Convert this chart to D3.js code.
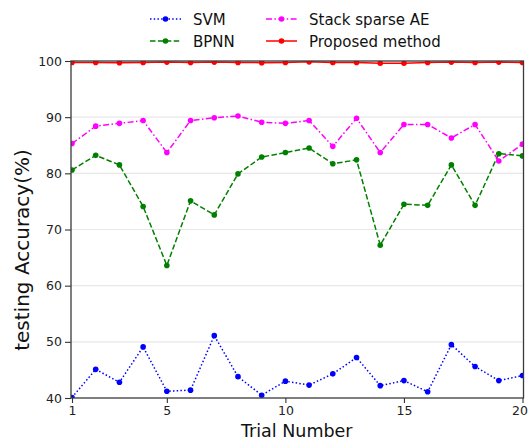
<!DOCTYPE html>
<html>
<head>
<meta charset="utf-8">
<script src="https://cdn.jsdelivr.net/npm/d3@7/dist/d3.min.js"></script>
<style>
  html, body { margin: 0; padding: 0; background: #fff; overflow: hidden; }
  svg { display: block; font-family: "DejaVu Sans", sans-serif; }
</style>
</head>
<body>
<svg id="chart" width="528" height="441"></svg>
<script>
// Trial index 1..20
const trials = d3.range(1, 21);

// Testing accuracy (%) for each method across the 20 trials
const svm = [40.1, 45.1, 42.8, 49.1, 41.2, 41.4, 51.1, 43.8, 40.5, 43.0,
             42.3, 44.3, 47.2, 42.2, 43.1, 41.1, 49.5, 45.6, 43.1, 44.0];
const bpnn = [80.6, 83.2, 81.5, 74.1, 63.6, 75.1, 72.6, 79.9, 82.9, 83.7,
              84.5, 81.7, 82.4, 67.2, 74.5, 74.3, 81.5, 74.3, 83.5, 83.1];
const stackAE = [85.3, 88.4, 88.9, 89.4, 83.7, 89.4, 89.9, 90.2, 89.1, 88.9,
                 89.4, 84.8, 89.8, 83.7, 88.7, 88.7, 86.3, 88.7, 82.2, 85.2];
const proposed = [99.75, 99.75, 99.7, 99.75, 99.8, 99.75, 99.8, 99.75, 99.7, 99.75,
                  99.85, 99.75, 99.75, 99.6, 99.6, 99.75, 99.8, 99.75, 99.8, 99.75];

const xTicks = [1, 5, 10, 15, 20];
const yTicks = [40, 50, 60, 70, 80, 90, 100];
const gridValues = [50, 60, 70, 80, 90];

const seriesNames = ["SVM", "BPNN", "Stack sparse AE", "Proposed method"];
const seriesValues = [svm, bpnn, stackAE, proposed];
const seriesColors = ["#0000ff", "#008000", "#ff00ff", "#ff0000"];
const seriesDashes = ["1.5,2.2", "5.5,2.4", "6,2.4,1.5,2.4", null];

const svg = d3.select("#chart");
const plot = { left: 71, right: 522.5, top: 61, bottom: 398 };

const x = d3.scaleLinear().domain([1, 20]).range([plot.left + 1, plot.right]);
const y = d3.scaleLinear().domain([40, 100]).range([plot.bottom, plot.top]);

svg.append("defs").append("clipPath").attr("id", "plot-clip")
  .append("rect")
  .attr("x", plot.left).attr("y", plot.top)
  .attr("width", plot.right - plot.left + 1).attr("height", plot.bottom - plot.top);

// horizontal grid lines
svg.append("g").selectAll("line").data(gridValues).join("line")
  .attr("x1", plot.left).attr("x2", plot.right)
  .attr("y1", d => y(d)).attr("y2", d => y(d))
  .attr("stroke", "#e8e8e8").attr("stroke-width", 1.2);

// series
const lineGen = d3.line().x((d, i) => x(trials[i])).y(d => y(d));
const marks = svg.append("g").attr("clip-path", "url(#plot-clip)");
seriesValues.forEach((vals, k) => {
  const g = marks.append("g");
  g.append("path").datum(vals)
    .attr("d", lineGen)
    .attr("fill", "none")
    .attr("stroke", seriesColors[k])
    .attr("stroke-width", 1.5)
    .attr("stroke-dasharray", seriesDashes[k]);
  g.selectAll("circle").data(vals).join("circle")
    .attr("cx", (d, i) => x(trials[i]))
    .attr("cy", d => y(d))
    .attr("r", 2.8)
    .attr("fill", seriesColors[k]);
});

// axes
const xAxis = d3.axisBottom(x).tickValues(xTicks).tickSize(5).tickPadding(3);
const yAxis = d3.axisLeft(y).tickValues(yTicks).tickSize(6).tickPadding(3);

const gx = svg.append("g").attr("transform", `translate(0,${plot.bottom})`).call(xAxis);
const gy = svg.append("g").attr("transform", `translate(${plot.left},0)`).call(yAxis);
[gx, gy].forEach(g => {
  g.select(".domain").remove();
  g.selectAll(".tick line").attr("stroke", "#333").attr("stroke-width", 1.1);
  g.selectAll(".tick text").attr("fill", "#222").style("font-size", "12.5px")
    .style("font-family", "'DejaVu Sans', sans-serif");
});
// keep the last x tick label inside the page edge
gx.selectAll(".tick text").filter(d => d === 20).attr("dx", -3);

// frame
svg.append("rect")
  .attr("x", plot.left).attr("y", plot.top)
  .attr("width", plot.right - plot.left + 1).attr("height", plot.bottom - plot.top)
  .attr("fill", "none").attr("stroke", "#3a3a3a").attr("stroke-width", 1.3);

// axis titles
svg.append("text")
  .attr("x", (plot.left + plot.right) / 2).attr("y", 437)
  .attr("text-anchor", "middle")
  .attr("fill", "#111")
  .style("font-size", "17.5px")
  .text("Trial Number");

svg.append("text")
  .attr("transform", "translate(29,250) rotate(-90)")
  .attr("text-anchor", "middle")
  .attr("fill", "#111")
  .style("font-size", "20px")
  .text("testing Accuracy(%)");

// legend, two columns
const legendPos = [
  { hx: 150, tx: 193, y: 19 },
  { hx: 150, tx: 193, y: 41 },
  { hx: 266, tx: 309, y: 19 },
  { hx: 266, tx: 309, y: 41 }
];
const legend = svg.append("g");
seriesNames.forEach((name, k) => {
  const p = legendPos[k];
  legend.append("line")
    .attr("x1", p.hx).attr("x2", p.hx + 31)
    .attr("y1", p.y).attr("y2", p.y)
    .attr("stroke", seriesColors[k]).attr("stroke-width", 1.5)
    .attr("stroke-dasharray", seriesDashes[k]);
  legend.append("circle")
    .attr("cx", p.hx + 15.5).attr("cy", p.y).attr("r", 2.8)
    .attr("fill", seriesColors[k]);
  legend.append("text")
    .attr("x", p.tx).attr("y", p.y + 5.5)
    .attr("fill", "#111")
    .style("font-size", "15px")
    .text(name);
});
</script>
</body>
</html>
